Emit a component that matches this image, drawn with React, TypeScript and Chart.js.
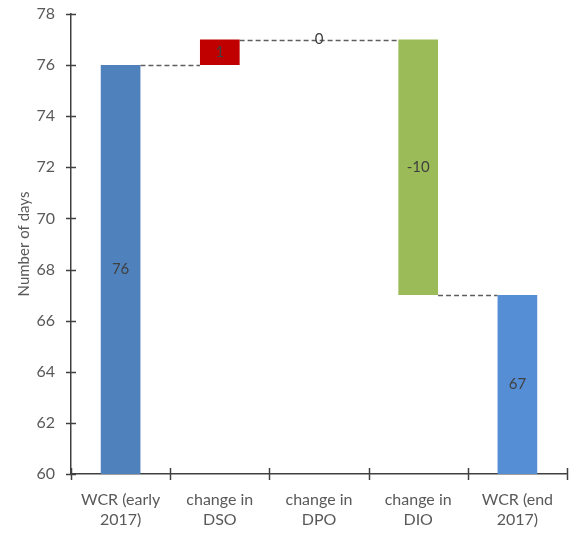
import { useEffect, useRef } from "react";
import { Chart, registerables } from "chart.js";

Chart.register(...registerables);

// Waterfall of working capital requirement (days), early 2017 -> end 2017
const categories: string[][] = [
  ["WCR (early", "2017)"],
  ["change in", "DSO"],
  ["change in", "DPO"],
  ["change in", "DIO"],
  ["WCR (end", "2017)"],
];
const stepValues = [76, 1, 0, -10, 67];
const isTotal = [true, false, false, false, true];
const barColors = ["#4F81BD", "#C00000", "#9BBB59", "#9BBB59", "#558ED5"];

const Y_MIN = 60;
const Y_MAX = 78;
const Y_STEP = 2;

const FONT_FAMILY = "Lato, 'Open Sans', sans-serif";
const TEXT_COLOR = "#595959";
const AXIS_COLOR = "#404040";

// Turn step values into floating [start, end] ranges
function buildRanges(): [number, number][] {
  const out: [number, number][] = [];
  let level = 0;
  stepValues.forEach((v, i) => {
    if (isTotal[i]) {
      out.push([Y_MIN, v]);
      level = v;
    } else {
      out.push([level, level + v]);
      level += v;
    }
  });
  return out;
}

const connectorPlugin = {
  id: "connectors",
  beforeDatasetsDraw(chart: any) {
    const meta = chart.getDatasetMeta(0);
    const ranges = chart.data.datasets[0].data as [number, number][];
    const y = chart.scales.y;
    const ctx = chart.ctx;
    ctx.save();
    ctx.strokeStyle = "#5f5f5f";
    ctx.lineWidth = 1.5;
    ctx.setLineDash([5, 3]);
    let i = 0;
    while (i < ranges.length - 1) {
      const bar = meta.data[i];
      const level = ranges[i][1];
      let j = i + 1;
      while (j < ranges.length - 1 && ranges[j][0] === ranges[j][1]) j++;
      const next = meta.data[j];
      const x1 = bar.x + bar.width / 2;
      const x2 = next.x - next.width / 2;
      const py = Math.round(y.getPixelForValue(level)) + 0.5;
      ctx.beginPath();
      ctx.moveTo(x1, py);
      ctx.lineTo(x2, py);
      ctx.stroke();
      i = j;
    }
    ctx.restore();
  },
};

const valueLabelPlugin = {
  id: "valueLabels",
  afterDatasetsDraw(chart: any) {
    const meta = chart.getDatasetMeta(0);
    const ranges = chart.data.datasets[0].data as [number, number][];
    const y = chart.scales.y;
    const ctx = chart.ctx;
    ctx.save();
    ctx.font = `15px ${FONT_FAMILY}`;
    ctx.fillStyle = "#404040";
    ctx.textAlign = "center";
    ctx.textBaseline = "middle";
    ranges.forEach((r, i) => {
      const bar = meta.data[i];
      const mid = (r[0] + r[1]) / 2;
      ctx.fillText(String(stepValues[i]), bar.x, y.getPixelForValue(mid));
    });
    ctx.restore();
  },
};

// Tick marks that cross the axis lines
const crossTicksPlugin = {
  id: "crossTicks",
  afterDraw(chart: any) {
    const { x, y } = chart.scales;
    const ctx = chart.ctx;
    const area = chart.chartArea;
    ctx.save();
    ctx.strokeStyle = AXIS_COLOR;
    ctx.lineWidth = 1.5;
    y.ticks.forEach((t: any) => {
      const py = Math.round(y.getPixelForValue(t.value)) + 0.5;
      ctx.beginPath();
      ctx.moveTo(area.left - 5, py);
      ctx.lineTo(area.left + 5, py);
      ctx.stroke();
    });
    const n = categories.length;
    for (let k = 0; k <= n; k++) {
      const px = Math.round(x.left + (k * x.width) / n) + 0.5;
      ctx.beginPath();
      ctx.moveTo(px, area.bottom - 6);
      ctx.lineTo(px, area.bottom + 6);
      ctx.stroke();
    }
    ctx.restore();
  },
};

export default function App() {
  const canvasRef = useRef<HTMLCanvasElement | null>(null);

  useEffect(() => {
    if (!canvasRef.current) return;
    const chart = new Chart(canvasRef.current, {
      type: "bar",
      data: {
        labels: categories,
        datasets: [
          {
            data: buildRanges() as any,
            backgroundColor: barColors,
            borderWidth: 0,
            borderSkipped: false,
            categoryPercentage: 1,
            barPercentage: 0.4,
          },
        ],
      },
      options: {
        animation: false,
        responsive: true,
        maintainAspectRatio: false,
        layout: { padding: { left: 0, right: 13, top: 14, bottom: 0 } },
        plugins: {
          legend: { display: false },
          tooltip: { enabled: false },
        },
        scales: {
          x: {
            grid: { display: false, drawTicks: false },
            border: { display: true, color: AXIS_COLOR, width: 1.5 },
            ticks: {
              color: TEXT_COLOR,
              font: { family: FONT_FAMILY, size: 16, lineHeight: 1.3 },
              padding: 15,
              maxRotation: 0,
              autoSkip: false,
            },
            afterFit: (s: any) => {
              s.height = 59;
              s.paddingLeft = 0;
              s.paddingRight = 0;
            },
          },
          y: {
            min: Y_MIN,
            max: Y_MAX,
            grid: { display: false, drawTicks: false },
            border: { display: true, color: AXIS_COLOR, width: 1.5 },
            ticks: {
              stepSize: Y_STEP,
              color: TEXT_COLOR,
              font: { family: FONT_FAMILY, size: 16 },
              padding: 16,
            },
            title: {
              display: true,
              text: "Number of days",
              color: TEXT_COLOR,
              font: { family: FONT_FAMILY, size: 15, lineHeight: 1.2 },
              padding: { top: 15, bottom: 0 },
            },
            afterFit: (s: any) => {
              s.width = 71;
              s.paddingTop = 0;
              s.paddingBottom = 0;
            },
          },
        },
      },
      plugins: [connectorPlugin, valueLabelPlugin, crossTicksPlugin],
    });
    return () => chart.destroy();
  }, []);

  return (
    <div style={{ position: "absolute", left: 0, top: 0, width: 580, height: 533, background: "#fff" }}>
      <canvas ref={canvasRef} />
    </div>
  );
}
